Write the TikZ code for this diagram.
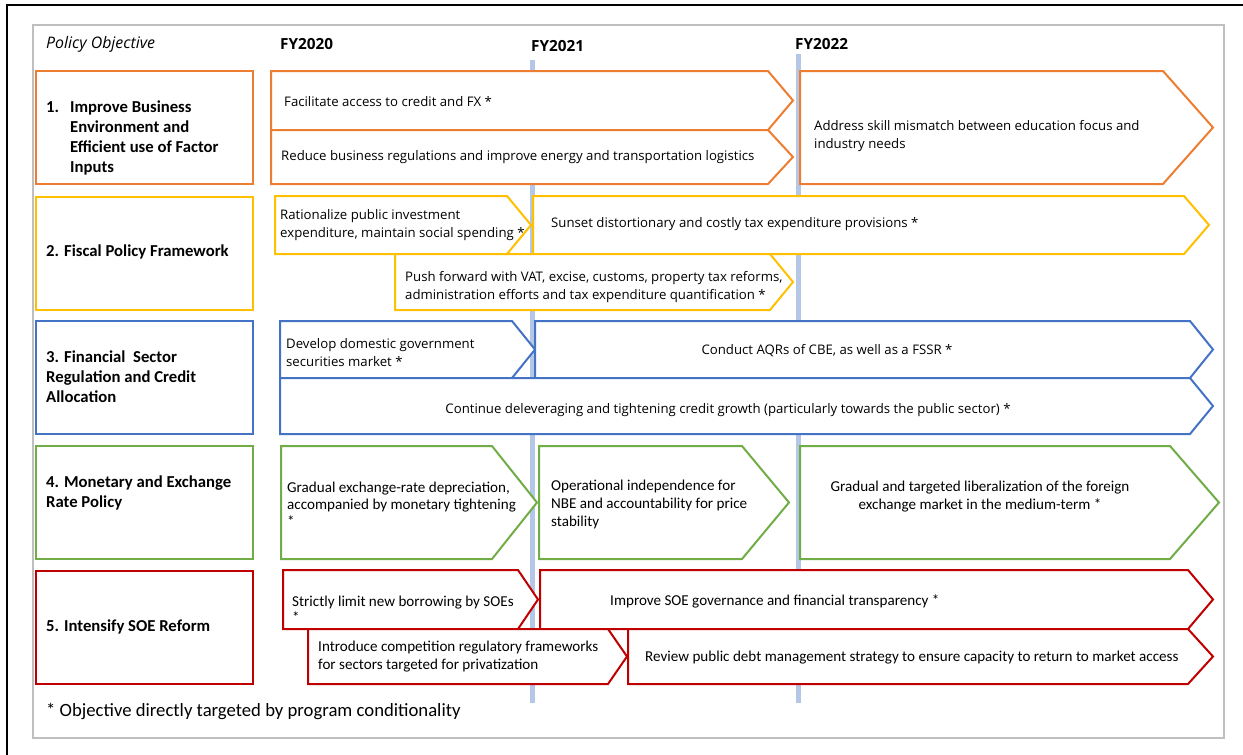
\documentclass[tikz,border=0pt]{standalone}
\usepackage{fontspec}
\setmainfont{Open Sans}
\newfontfamily\calib{Carlito}
\usetikzlibrary{positioning}

\definecolor{orng}{HTML}{ED7D31}
\definecolor{yllw}{HTML}{FFC000}
\definecolor{blu}{HTML}{4472C4}
\definecolor{grn}{HTML}{70AD47}
\definecolor{rd}{HTML}{C00000}
\definecolor{barblue}{HTML}{B4C7E7}
\definecolor{framegray}{HTML}{BFBFBF}

\begin{document}
\begin{tikzpicture}[x=1pt, y=-1pt,
    objbox/.style={rectangle, draw=#1, line width=2pt, fill=white, minimum width=217pt, minimum height=113pt, inner sep=0pt},
    chev/.style={draw=#1, line width=2pt, fill=white, line join=miter},
    txt/.style={anchor=west, align=left, inner sep=0pt, font=\fontsize{13.2}{18}\selectfont},
    ctxt/.style={anchor=west, align=left, inner sep=0pt, font=\calib\fontsize{15.1}{18}\selectfont},
    head/.style={anchor=west, align=left, inner sep=0pt, font=\calib\bfseries\fontsize{16.7}{20}\selectfont},
    year/.style={anchor=west, inner sep=0pt, font=\bfseries\fontsize{15.3}{16}\selectfont},
    yearbar/.style={line width=5pt, color=barblue}
]

\path[use as bounding box] (0,0) rectangle (1243,755);

% page frame and chart frame
\draw[line width=2.5pt] (7,760) -- (7,5) -- (1250,5);
\draw[framegray, line width=2pt] (33,25) rectangle (1224,738);

% column heads
\node[anchor=west, inner sep=0pt, font=\itshape\fontsize{15.9}{16}\selectfont] (polobj) at (46,44) {Policy Objective};
\node[year] (fy20) at (280,44) {FY2020};
\node[year] (fy21) at (531,46) {FY2021};
\node[year] (fy22) at (795,44) {FY2022};

\draw[yearbar] (532.5,60) -- (532.5,703);
\draw[yearbar] (798.5,54) -- (798.5,703);

% policy objectives
\node[objbox=orng] (objbiz) at (144.5,127.5) {};
\node[objbox=yllw] (objfisc) at (144.5,253) {};
\node[objbox=blu] (objfin) at (144.5,377.5) {};
\node[objbox=grn] (objmon) at (144.5,502.5) {};
\node[objbox=rd] (objsoe) at (144.5,627) {};

\node[head] (hdbiz) at (46,137.5) {\makebox[24pt][l]{1.}Improve Business\\\hspace*{24pt}Environment and\\\hspace*{24pt}Efficient use of Factor\\\hspace*{24pt}Inputs};
\node[head] (hdfisc) at (46,252) {2. Fiscal Policy Framework};
\node[head] (hdfin) at (46,377) {3. Financial\ \ Sector\\Regulation and Credit\\Allocation};
\node[head] (hdmon) at (46,492.5) {4. Monetary and Exchange\\Rate Policy};
\node[head] (hdsoe) at (46,627) {5. Intensify SOE Reform};

% 1. business environment
\draw[chev=orng] (271,71) -- (768,71) -- (793,100.5) -- (768,130) -- (271,130) -- cycle;
\node[txt] (facil) at (284,102) {Facilitate access to credit and FX *};
\draw[chev=orng] (271,130) -- (768,130) -- (793,157) -- (768,184) -- (271,184) -- cycle;
\node[txt] (reduce) at (281,157) {Reduce business regulations and improve energy and transportation logistics};
\draw[chev=orng] (800,71) -- (1163,71) -- (1213,127.5) -- (1163,184) -- (800,184) -- cycle;
\node[txt] (skill) at (814,136) {Address skill mismatch between education focus and\\industry needs};

% 2. fiscal policy
\draw[chev=yllw] (275,196) -- (507,196) -- (531,225) -- (507,254) -- (275,254) -- cycle;
\node[txt] (ration) at (280,225) {Rationalize public investment\\expenditure, maintain social spending *};
\draw[chev=yllw] (533,196) -- (1184,196) -- (1209,225) -- (1184,254) -- (533,254) -- cycle;
\node[txt] (sunset) at (551,224) {Sunset distortionary and costly tax expenditure provisions *};
\draw[chev=yllw] (395,254) -- (770,254) -- (793,282) -- (770,310) -- (395,310) -- cycle;
\node[txt] (vat) at (405,287) {Push forward with VAT, excise, customs, property tax reforms,\\administration efforts and tax expenditure quantification *};

% 3. financial sector
\draw[chev=blu] (280,321) -- (512,321) -- (535,349.5) -- (512,378) -- (280,378) -- cycle;
\node[txt] (secmkt) at (286,353) {Develop domestic government\\securities market *};
\draw[chev=blu] (535,321) -- (1190,321) -- (1213,349.5) -- (1190,378) -- (535,378) -- cycle;
\node[txt, anchor=center] (aqr) at (827,351) {Conduct AQRs of CBE, as well as a FSSR *};
\draw[chev=blu] (280,378) -- (1190,378) -- (1213,406) -- (1190,434) -- (280,434) -- cycle;
\node[txt, anchor=center] (delev) at (728,410) {Continue deleveraging and tightening credit growth (particularly towards the public sector) *};

% 4. monetary and exchange rate
\draw[chev=grn] (281,446) -- (492,446) -- (537,502.5) -- (492,559) -- (281,559) -- cycle;
\node[ctxt, font=\calib\fontsize{15.1}{17}\selectfont] (deprec) at (287,504) {Gradual exchange-rate depreciation,\\accompanied by monetary tightening\\*};
\draw[chev=grn] (539,446) -- (742,446) -- (789,502.5) -- (742,559) -- (539,559) -- cycle;
\node[ctxt] (opind) at (551,504) {Operational independence for\\NBE and accountability for price\\stability};
\draw[chev=grn] (800,446) -- (1170,446) -- (1219,502.5) -- (1170,559) -- (800,559) -- cycle;
\node[ctxt, anchor=center, align=center] (liberal) at (980,497) {Gradual and targeted liberalization of the foreign\\exchange market in the medium-term *};

% 5. SOE reform
\draw[chev=rd] (283,570) -- (518,570) -- (538,599.5) -- (518,629) -- (283,629) -- cycle;
\node[ctxt, font=\calib\fontsize{15.1}{16}\selectfont] (borrow) at (292,609) {Strictly limit new borrowing by SOEs\\*};
\draw[chev=rd] (540,570) -- (1188,570) -- (1213,599.5) -- (1188,629) -- (540,629) -- cycle;
\node[ctxt] (soegov) at (610,601) {Improve SOE governance and financial transparency *};
\draw[chev=rd] (308,629) -- (608,629) -- (627,656.5) -- (608,684) -- (308,684) -- cycle;
\node[ctxt] (compet) at (318,657) {Introduce competition regulatory frameworks\\for sectors targeted for privatization};
\draw[chev=rd] (628,629) -- (1188,629) -- (1213,656.5) -- (1188,684) -- (628,684) -- cycle;
\node[ctxt] (debt) at (645,658) {Review public debt management strategy to ensure capacity to return to market access};

% footnote
\node[anchor=west, inner sep=0pt, font=\calib\fontsize{18.7}{20}\selectfont] (note) at (46,711) {* Objective directly targeted by program conditionality};

\end{tikzpicture}
\end{document}
